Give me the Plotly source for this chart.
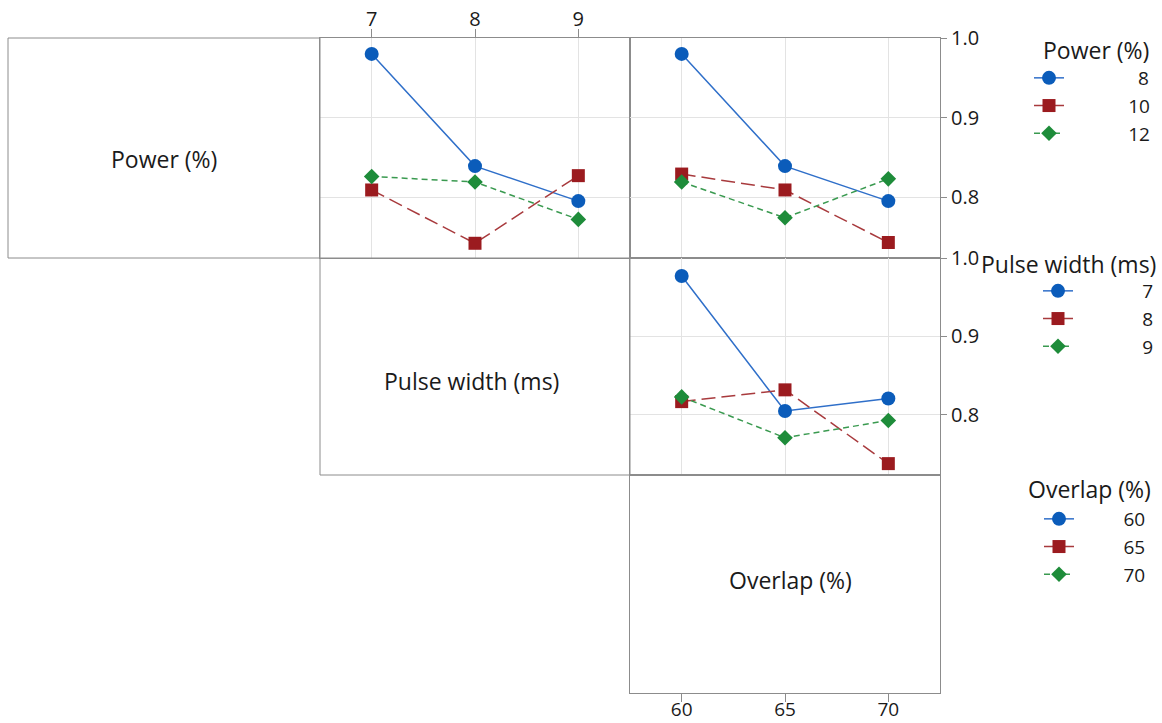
import plotly.graph_objects as go

W, H = 1162, 723

# ---------------- data ----------------
power_levels = [8, 10, 12]
pulse_levels = [7, 8, 9]
overlap_levels = [60, 65, 70]

# Power (trace) vs Pulse width (x)
pw_power8 = [0.980, 0.839, 0.795]
pw_power10 = [0.809, 0.742, 0.827]
pw_power12 = [0.826, 0.819, 0.772]

# Power (trace) vs Overlap (x)
ov_power8 = [0.980, 0.839, 0.795]
ov_power10 = [0.829, 0.809, 0.743]
ov_power12 = [0.819, 0.774, 0.823]

# Pulse width (trace) vs Overlap (x)
ov_pulse7 = [0.977, 0.805, 0.821]
ov_pulse8 = [0.817, 0.832, 0.738]
ov_pulse9 = [0.823, 0.771, 0.793]

y_ticks = [0.8, 0.9, 1.0]
y_ticktext = ["0.8", "0.9", "1.0"]

# ---------------- styles ----------------
colors = ["#0B5CBA", "#9B1B1F", "#1E8C3A"]
line_colors = ["#2F6FC9", "#A83A3D", "#3A9A50"]
symbols = ["circle", "square", "diamond"]
msizes = [14, 13, 12]
dashes = ["solid", "14px,6px", "6px,4px"]
FONT = "Open Sans"
GRID = "#e3e3e3"
BORDER = "#8c8c8c"
TXT = "#1a1a1a"
LEG_FS = 19


def px(x):
    return x / W


def py(y):
    return 1 - y / H


col_x = [(8, 320), (320, 630), (630, 940)]
row_y = [(38, 258), (258, 475), (475, 693)]


def xdom(c):
    return [px(col_x[c][0]), px(col_x[c][1])]


def ydom(r):
    return [py(row_y[r][1]), py(row_y[r][0])]


def pad_name(level, target, fs=LEG_FS):
    s = str(level)
    w = len(s) * 0.572 * fs
    n = max(0, round((target - w) / (0.26 * fs)))
    return "\u00a0" * n + s


YR = [0.7235, 1.0]
fig = go.Figure()


def add_panel(xs, series, levels, xa, ya, legend, show, target):
    for i, (ys, lv) in enumerate(zip(series, levels)):
        fig.add_trace(go.Scatter(
            x=xs, y=ys, xaxis=xa, yaxis=ya, mode="lines+markers",
            line=dict(color=line_colors[i], width=1.5, dash=dashes[i]),
            marker=dict(symbol=symbols[i], size=msizes[i], color=colors[i]),
            name=pad_name(lv, target), legend=legend, showlegend=show,
            legendgroup=legend + str(lv), hoverinfo="skip"))


add_panel(pulse_levels, [pw_power8, pw_power10, pw_power12], power_levels,
          "x", "y", "legend", True, 80)
add_panel(overlap_levels, [ov_power8, ov_power10, ov_power12], power_levels,
          "x2", "y2", "legend", False, 80)
add_panel(overlap_levels, [ov_pulse7, ov_pulse8, ov_pulse9], pulse_levels,
          "x3", "y3", "legend2", True, 73)
# Overlap legend entries (no panel to the right of Overlap)
for i, lv in enumerate(overlap_levels):
    fig.add_trace(go.Scatter(
        x=[None], y=[None], xaxis="x4", yaxis="y4", mode="lines+markers",
        line=dict(color=line_colors[i], width=1.5, dash=dashes[i]),
        marker=dict(symbol=symbols[i], size=msizes[i], color=colors[i]),
        name=pad_name(lv, 66), legend="legend3", showlegend=True,
        hoverinfo="skip"))

tickfont = dict(family=FONT, size=20, color=TXT)
common = dict(showline=True, mirror=True, linecolor=BORDER, linewidth=1,
              zeroline=False, automargin=False,
              tickcolor=BORDER, gridcolor=GRID, gridwidth=1)

layout = dict(
    width=W, height=H, margin=dict(l=0, r=0, t=0, b=0, pad=0),
    paper_bgcolor="white", plot_bgcolor="white",
    font=dict(family=FONT, color=TXT),
    xaxis=dict(domain=xdom(1), anchor="y", range=[6.5, 9.5], side="top",
               tickvals=pulse_levels, ticks="outside", ticklen=8,
               ticklabelstandoff=-5, showgrid=True, tickfont=tickfont, **common),
    yaxis=dict(domain=ydom(0), anchor="x", range=YR, tickvals=y_ticks,
               showticklabels=False, ticks="", showgrid=True, **common),
    xaxis2=dict(domain=xdom(2), anchor="y2", range=[57.5, 72.5],
                tickvals=overlap_levels, showticklabels=False, ticks="",
                showgrid=True, **common),
    yaxis2=dict(domain=ydom(0), anchor="x2", range=YR, side="right",
                tickvals=y_ticks, ticktext=y_ticktext, ticks="outside",
                ticklen=6, showgrid=True, tickfont=tickfont, **common),
    xaxis3=dict(domain=xdom(2), anchor="y3", range=[57.5, 72.5],
                tickvals=overlap_levels, showticklabels=False, ticks="",
                showgrid=True, **common),
    yaxis3=dict(domain=ydom(1), anchor="x3", range=YR, side="right",
                tickvals=y_ticks, ticktext=y_ticktext, ticks="outside",
                ticklen=6, showgrid=True, tickfont=tickfont, **common),
    xaxis4=dict(domain=xdom(2), anchor="y4", range=[57.5, 72.5],
                tickvals=overlap_levels, ticks="outside", ticklen=8,
                ticklabelstandoff=-9, showgrid=False,
                tickfont=dict(family=FONT, size=19, color=TXT), **common),
    yaxis4=dict(domain=ydom(2), anchor="x4", range=[0, 1],
                showticklabels=False, ticks="", showgrid=False, **common),
    showlegend=True,
)

leg_common = dict(bgcolor="rgba(0,0,0,0)", borderwidth=0, tracegroupgap=0,
                  font=dict(family=FONT, size=LEG_FS, color=TXT),
                  xanchor="left", yanchor="top", itemclick=False,
                  itemdoubleclick=False)
layout["legend"] = dict(x=px(1029), y=py(59), **leg_common)
layout["legend2"] = dict(x=px(1038), y=py(272), **leg_common)
layout["legend3"] = dict(x=px(1039), y=py(500), **leg_common)

shapes = []
for (c, r) in [(0, 0), (1, 1)]:
    shapes.append(dict(type="rect", xref="paper", yref="paper",
                       x0=xdom(c)[0], x1=xdom(c)[1], y0=ydom(r)[0], y1=ydom(r)[1],
                       line=dict(color=BORDER, width=1)))
layout["shapes"] = shapes

ann = []
lab_font = dict(family=FONT, size=23, color=TXT)
for text, x, y in [("Power (%)", 164, 159), ("Pulse width (ms)", 471, 381),
                   ("Overlap (%)", 790, 580)]:
    ann.append(dict(text=text, x=px(x), y=py(y), xref="paper", yref="paper",
                    showarrow=False, xanchor="center", yanchor="middle",
                    font=lab_font))
for text, x, y in [("Power (%)", 1151, 50), ("Pulse width (ms)", 1158, 264),
                   ("Overlap (%)", 1153, 489)]:
    ann.append(dict(text=text, x=px(x), y=py(y), xref="paper", yref="paper",
                    showarrow=False, xanchor="right", yanchor="middle",
                    font=lab_font))
layout["annotations"] = ann

fig.update_layout(**layout)
fig.write_html("out.html", config=dict(displayModeBar=False))
